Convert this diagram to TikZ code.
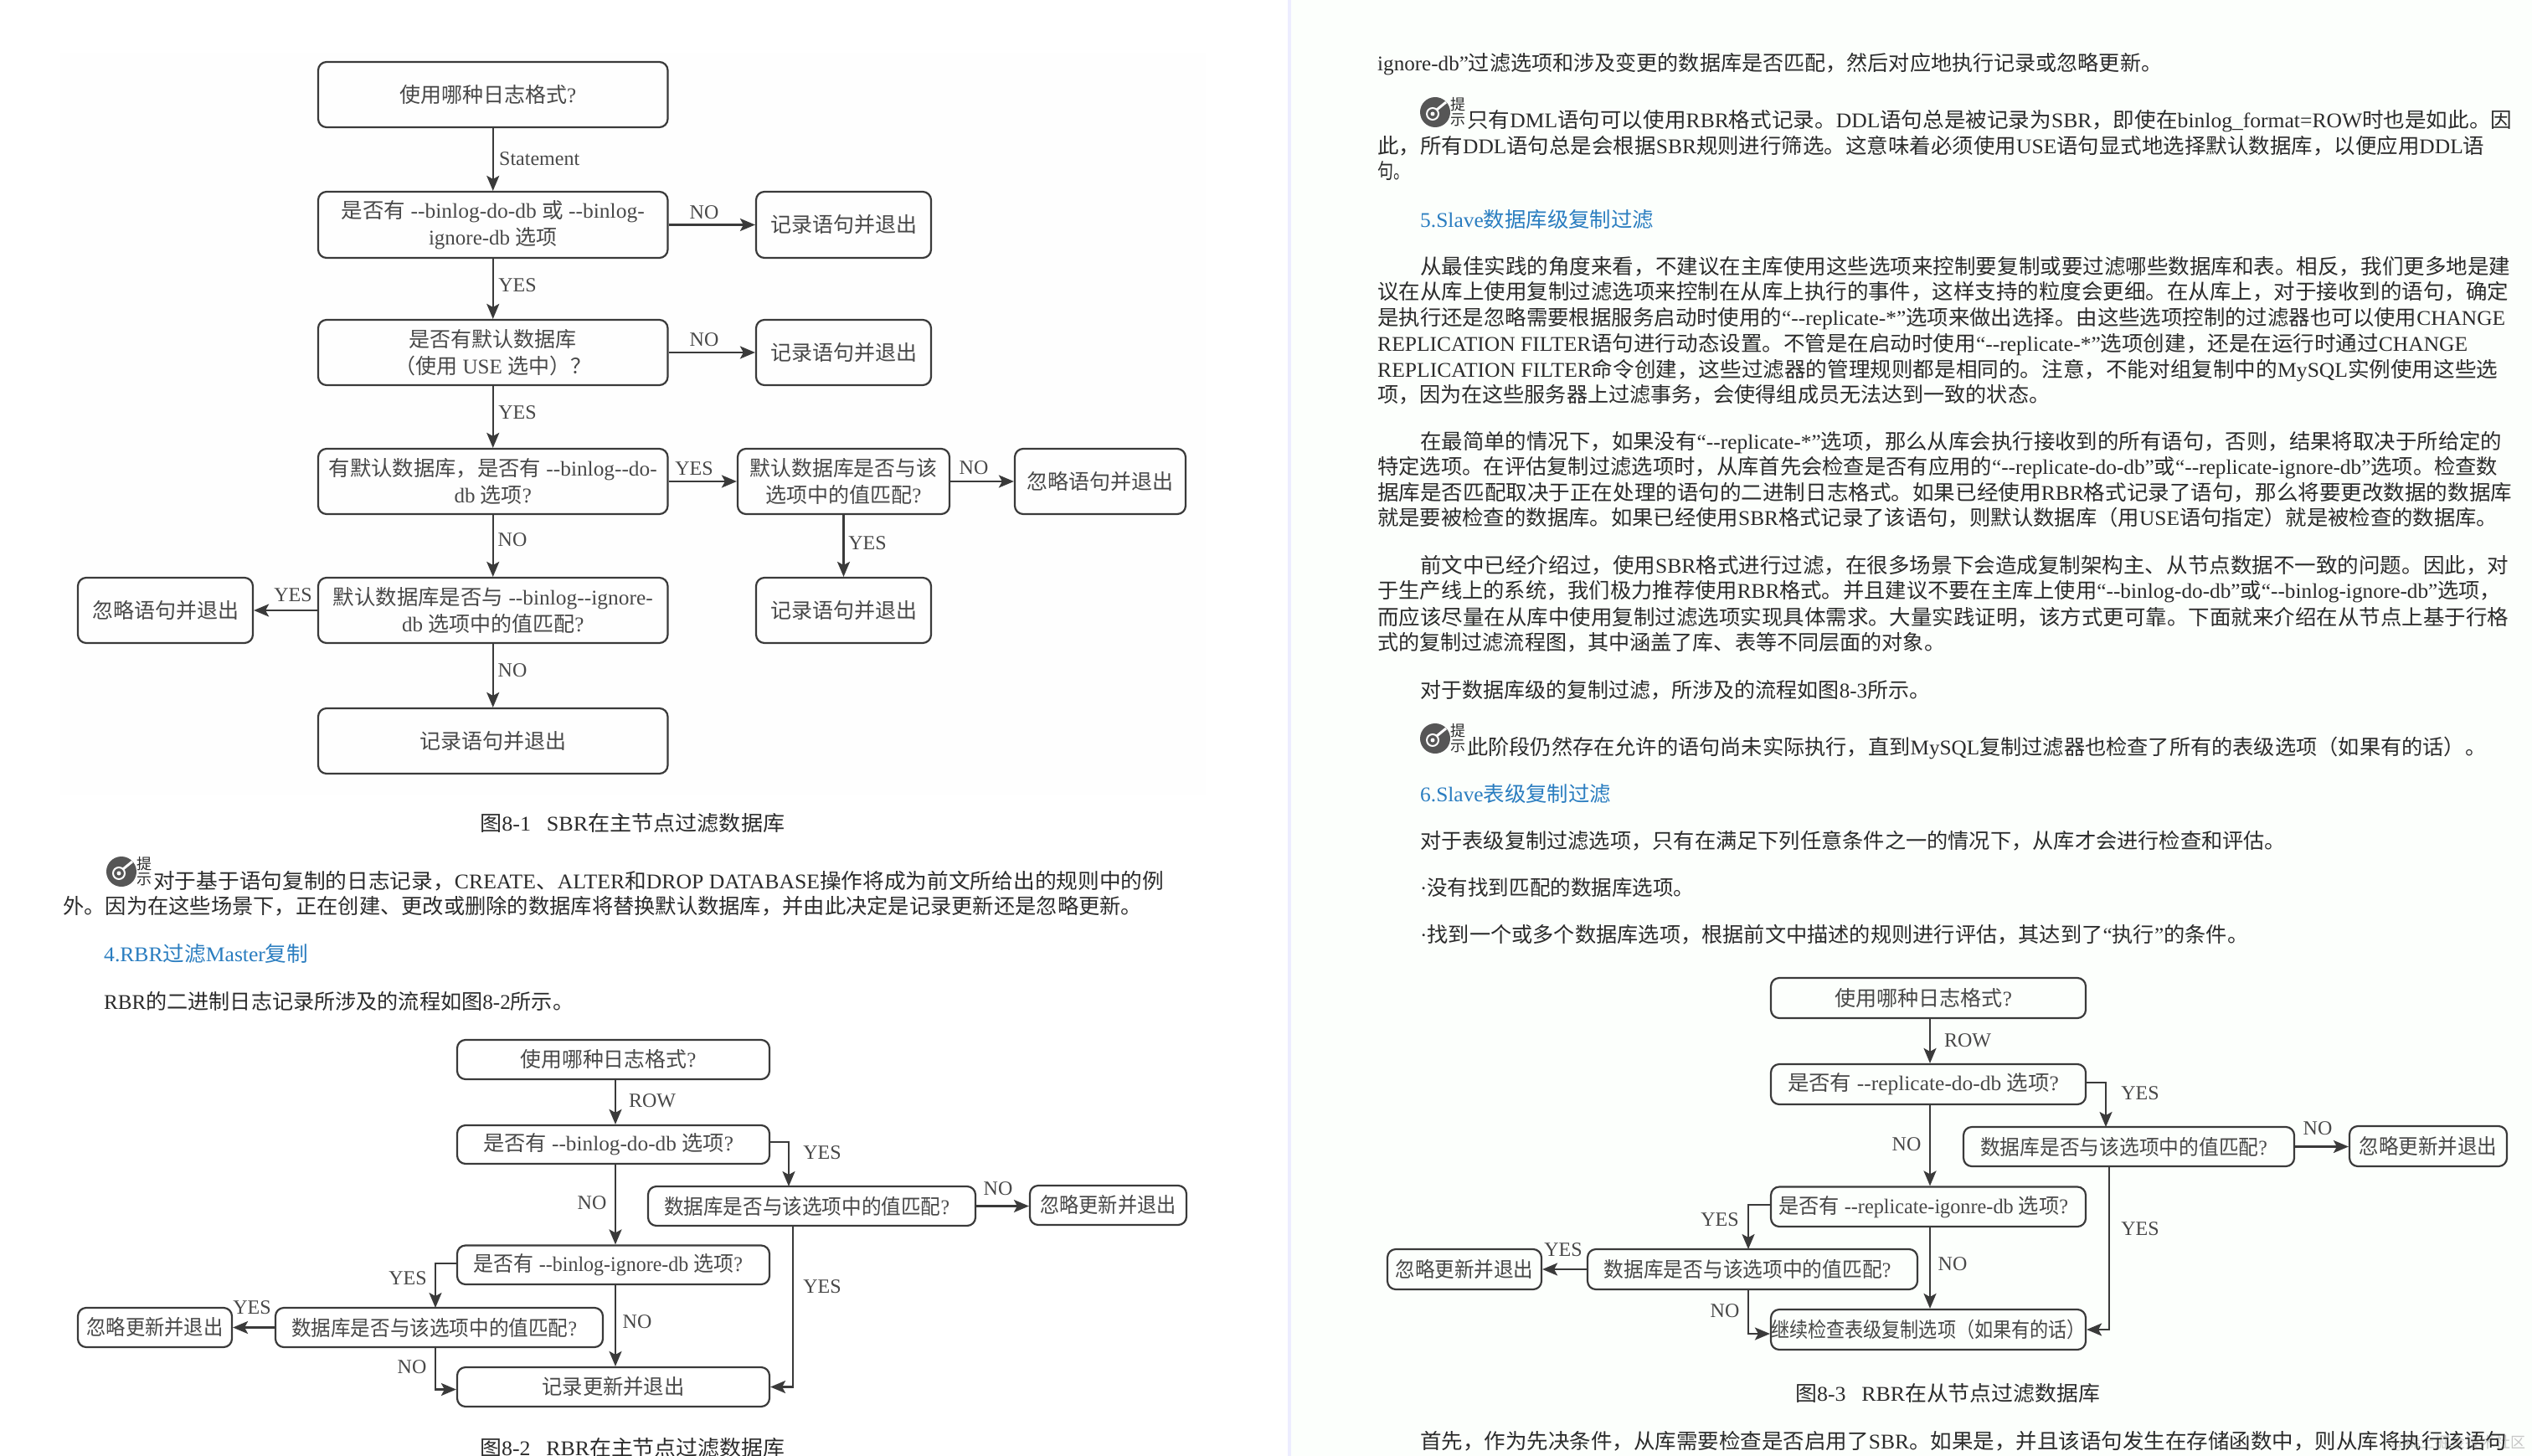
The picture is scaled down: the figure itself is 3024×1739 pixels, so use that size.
\documentclass[tikz,border=0pt]{standalone}
\usepackage{fontspec}
\usepackage{graphicx}
\usetikzlibrary{arrows.meta}
\setmainfont{Liberation Serif}
\newfontfamily\latf{Liberation Serif}
\newfontfamily\cjk{Noto Sans CJK SC}
\XeTeXinterchartokenstate=1
\newXeTeXintercharclass\cjkclass
\makeatletter
\@tempcnta="2E80 \loop\ifnum\@tempcnta<"A000 \XeTeXcharclass\@tempcnta=\cjkclass \advance\@tempcnta 1 \repeat
\@tempcnta="FF00 \loop\ifnum\@tempcnta<"FFF0 \XeTeXcharclass\@tempcnta=\cjkclass \advance\@tempcnta 1 \repeat
\@tempcnta="21 \loop\ifnum\@tempcnta<"180 \XeTeXcharclass\@tempcnta=0 \advance\@tempcnta 1 \repeat
\@tempcnta="2010 \loop\ifnum\@tempcnta<"2060 \XeTeXcharclass\@tempcnta=0 \advance\@tempcnta 1 \repeat
\makeatother
\XeTeXinterchartoks 0 \cjkclass = {\cjk}
\XeTeXinterchartoks 4095 \cjkclass = {\cjk}
\XeTeXinterchartoks \cjkclass 0 = {\latf}
\XeTeXinterchartoks \cjkclass 4095 = {\latf}
\XeTeXinterchartoks 4095 0 = {\latf}
\definecolor{ink}{HTML}{2B2B2B}
\definecolor{figink}{HTML}{3A3A3A}
\definecolor{figtext}{HTML}{484848}
\definecolor{headblue}{HTML}{2A7DC0}
\definecolor{iconc}{HTML}{565656}
\definecolor{figbg}{HTML}{FEFEFE}
\newcounter{lc}
\newcommand{\tl}[4]{\stepcounter{lc}\node[textline] (ln\arabic{lc}) at (#1,#2+9) {\resizebox{#3pt}{\height}{#4}};}
\newcommand{\hl}[4]{\stepcounter{lc}\node[textline,text=headblue] (ln\arabic{lc}) at (#1,#2+9) {\resizebox{#3pt}{\height}{#4}};}
\newcommand{\fw}[2]{\resizebox{#1pt}{\height}{#2}}
\newcommand{\ofw}[2]{\makebox[0pt][c]{\kern-12pt\resizebox{#1pt}{\height}{#2}}}
\newcommand{\icon}[3]{%
  \fill[iconc] (#1,#2) circle (18);
  \draw[white,line width=2] (#1-3,#2+2) circle (7);
  \fill[white] (#1-3,#2+2) circle (2.5);
  \draw[white,line width=3] (#1+2,#2-3) -- (#1+13,#2-12);
  \stepcounter{lc}\node[icontext] (ln\arabic{lc}) at (#1+27,#2-9) {提};
  \stepcounter{lc}\node[icontext] (ln\arabic{lc}) at (#1+27,#2+9) {示};
}
\newcommand{\bx}[6]{\node[fbox,minimum width=#4pt-#2pt,minimum height=#5pt-#3pt] (#1) at ({(#2+#4)/2},{(#3+#5)/2}) {#6};}
\tikzset{
  textline/.style={anchor=base west,inner sep=0,text=ink,font=\fontsize{25}{30}\selectfont\latf},
  icontext/.style={inner sep=0,text=ink,font=\fontsize{18}{20}\selectfont\cjk},
  fbox/.style={draw=figink,line width=2.2pt,rounded corners=10pt,inner sep=0,align=center,text=figtext,font=\fontsize{25}{32.5}\selectfont\latf},
  arr/.style={draw=figink,line width=2.2pt,-{Stealth[length=18pt,width=15pt,inset=4pt]}},
  lab/.style={inner sep=0,text=figtext,font=\fontsize{24}{28}\selectfont\latf},
  wm/.style={inner sep=0,text=black!22,font=\fontsize{18}{20}\selectfont\cjk}
}
\begin{document}
\begin{tikzpicture}[x=1pt,y=-1pt]
\useasboundingbox (0,0) rectangle (3024,1739);
\fill[white] (0,0) rectangle (3024,1739);
\fill[figbg] (72,63) rectangle (1440,950);
\fill[green!1!white] (1542,0) rectangle (3024,1739);
\fill[blue!7!white] (1538,0) rectangle (1542,1739);
\node[wm,anchor=east] (wmark) at (3017,1724) {@稀土掘金技术社区};

% Figure 8-1
\bx{a1}{380}{74}{797.5}{152}{\ofw{211}{使用哪种日志格式?}}
\bx{b1}{380}{229}{797.5}{308}{\fw{362}{是否有 --binlog-do-db 或 --binlog-}\\ignore-db 选项}
\bx{br1}{903}{229}{1112}{308}{记录语句并退出}
\bx{c1}{380}{382}{797.5}{460}{是否有默认数据库\\（使用 USE 选中）？}
\bx{cr1}{903}{382}{1112}{460}{记录语句并退出}
\bx{d1}{380}{536}{797.5}{614}{\fw{392}{有默认数据库，是否有 --binlog--do-}\\db 选项?}
\bx{dm1}{881}{536}{1134}{614}{\fw{224}{默认数据库是否与该}\\选项中的值匹配?}
\bx{dr1}{1212}{536}{1416}{614}{忽略语句并退出}
\bx{e1}{380}{690}{797.5}{768}{\fw{382}{默认数据库是否与 --binlog--ignore-}\\db 选项中的值匹配?}
\bx{el1}{93}{690}{302}{768}{忽略语句并退出}
\bx{er1}{903}{690}{1112}{768}{记录语句并退出}
\bx{f1}{380}{846}{797.5}{924}{记录语句并退出}
\draw[arr] (a1) -- (b1);
\draw[arr] (b1) -- (c1);
\draw[arr] (c1) -- (d1);
\draw[arr] (d1) -- (e1);
\draw[arr] (e1) -- (f1);
\draw[arr] (b1) -- (br1);
\draw[arr] (c1) -- (cr1);
\draw[arr] (d1) -- (dm1);
\draw[arr] (dm1) -- (dr1);
\draw[arr] (dm1) -- (er1);
\draw[arr] (e1) -- (el1);
\node[lab,anchor=west] (l11) at (596,189.5) {Statement};
\node[lab] (l12) at (841,254) {NO};
\node[lab] (l13) at (618,341) {YES};
\node[lab] (l14) at (841,406) {NO};
\node[lab] (l15) at (618,493) {YES};
\node[lab] (l16) at (829,560) {YES};
\node[lab] (l17) at (1163,559) {NO};
\node[lab] (l18) at (1036,649) {YES};
\node[lab] (l19) at (612,645) {NO};
\node[lab] (l110) at (350,711) {YES};
\node[lab] (l111) at (612,801) {NO};

% Left page text
\tl{573}{983}{364}{图8-1\hspace{18pt}SBR在主节点过滤数据库}
\icon{145}{1041}{i1}
\tl{183}{1052}{1207}{对于基于语句复制的日志记录，CREATE、ALTER和DROP DATABASE操作将成为前文所给出的规则中的例}
\tl{75}{1082}{1289}{外。因为在这些场景下，正在创建、更改或删除的数据库将替换默认数据库，并由此决定是记录更新还是忽略更新。}
\hl{124}{1139}{244}{4.RBR过滤Master复制}
\tl{124}{1196}{561}{RBR的二进制日志记录所涉及的流程如图8-2所示。}

% Figure 8-2
\bx{a2}{546}{1242}{919}{1289}{\ofw{210}{使用哪种日志格式?}}
\bx{b2}{546}{1344}{919}{1390}{\ofw{299}{是否有 --binlog-do-db 选项?}}
\bx{m2}{774}{1417}{1165}{1464}{\ofw{341}{数据库是否与该选项中的值匹配?}}
\bx{r2}{1230}{1416}{1417}{1463}{\fw{162}{忽略更新并退出}}
\bx{c2}{546}{1487.5}{919}{1534}{\ofw{321}{是否有 --binlog-ignore-db 选项?}}
\bx{d2}{329}{1562}{720}{1609}{\ofw{341}{数据库是否与该选项中的值匹配?}}
\bx{l2}{93}{1562}{277}{1609}{\fw{163}{忽略更新并退出}}
\bx{e2}{546}{1633}{919}{1680}{\fw{170}{记录更新并退出}}
\coordinate (x2) at (735,0);
\coordinate (mi2) at (942,1417);
\coordinate (mo2) at (947,1464);
\coordinate (di2) at (520,1562);
\coordinate (do2) at (520,1609);
\draw[arr] (x2 |- a2.south) -- (x2 |- b2.north);
\draw[arr] (x2 |- b2.south) -- (x2 |- c2.north);
\draw[arr] (x2 |- c2.south) -- (x2 |- e2.north);
\draw[arr] ([yshift=3pt]b2.east) -| (mi2);
\draw[arr] (mo2) |- (e2.east);
\draw[arr] (m2) -- (m2 -| r2.west);
\draw[arr] ([yshift=2pt]c2.west) -| (di2);
\draw[arr] (do2) |- ([yshift=-3pt]e2.west);
\draw[arr] (d2) -- (l2);
\node[lab] (l21) at (779,1315) {ROW};
\node[lab] (l22) at (982,1377) {YES};
\node[lab] (l23) at (707,1437) {NO};
\node[lab] (l24) at (1192,1420) {NO};
\node[lab] (l25) at (982,1537) {YES};
\node[lab] (l26) at (487,1527) {YES};
\node[lab] (l27) at (301,1562) {YES};
\node[lab] (l28) at (761,1579) {NO};
\node[lab] (l29) at (492,1633) {NO};
\tl{573}{1729}{364}{图8-2\hspace{18pt}RBR在主节点过滤数据库}

% Right page text
\tl{1645}{76}{937}{ignore-db”过滤选项和涉及变更的数据库是否匹配，然后对应地执行记录或忽略更新。}
\icon{1714}{134}{i2}
\tl{1752}{144}{1248}{只有DML语句可以使用RBR格式记录。DDL语句总是被记录为SBR，即使在binlog\_format=ROW时也是如此。因}
\tl{1645}{175}{1322}{此，所有DDL语句总是会根据SBR规则进行筛选。这意味着必须使用USE语句显式地选择默认数据库，以便应用DDL语}
\tl{1645}{205}{38}{句。}
\hl{1696}{262}{279}{5.Slave数据库级复制过滤}
\tl{1696}{318}{1302}{从最佳实践的角度来看，不建议在主库使用这些选项来控制要复制或要过滤哪些数据库和表。相反，我们更多地是建}
\tl{1645}{348}{1351}{议在从库上使用复制过滤选项来控制在从库上执行的事件，这样支持的粒度会更细。在从库上，对于接收到的语句，确定}
\tl{1645}{379}{1347}{是执行还是忽略需要根据服务启动时使用的“--replicate-*”选项来做出选择。由这些选项控制的过滤器也可以使用CHANGE}
\tl{1645}{410}{1302}{REPLICATION FILTER语句进行动态设置。不管是在启动时使用“--replicate-*”选项创建，还是在运行时通过CHANGE}
\tl{1645}{441}{1338}{REPLICATION FILTER命令创建，这些过滤器的管理规则都是相同的。注意，不能对组复制中的MySQL实例使用这些选}
\tl{1645}{471}{803}{项，因为在这些服务器上过滤事务，会使得组成员无法达到一致的状态。}
\tl{1696}{527}{1292}{在最简单的情况下，如果没有“--replicate-*”选项，那么从库会执行接收到的所有语句，否则，结果将取决于所给定的}
\tl{1645}{557}{1338}{特定选项。在评估复制过滤选项时，从库首先会检查是否有应用的“--replicate-do-db”或“--replicate-ignore-db”选项。检查数}
\tl{1645}{588}{1355}{据库是否匹配取决于正在处理的语句的二进制日志格式。如果已经使用RBR格式记录了语句，那么将要更改数据的数据库}
\tl{1645}{618}{1338}{就是要被检查的数据库。如果已经使用SBR格式记录了该语句，则默认数据库（用USE语句指定）就是被检查的数据库。}
\tl{1696}{675}{1300}{前文中已经介绍过，使用SBR格式进行过滤，在很多场景下会造成复制架构主、从节点数据不一致的问题。因此，对}
\tl{1645}{705.5}{1342}{于生产线上的系统，我们极力推荐使用RBR格式。并且建议不要在主库上使用“--binlog-do-db”或“--binlog-ignore-db”选项，}
\tl{1645}{737}{1351}{而应该尽量在从库中使用复制过滤选项实现具体需求。大量实践证明，该方式更可靠。下面就来介绍在从节点上基于行格}
\tl{1645}{767}{678}{式的复制过滤流程图，其中涵盖了库、表等不同层面的对象。}
\tl{1696}{824}{609}{对于数据库级的复制过滤，所涉及的流程如图8-3所示。}
\icon{1714}{882}{i3}
\tl{1752}{892}{1217}{此阶段仍然存在允许的语句尚未实际执行，直到MySQL复制过滤器也检查了所有的表级选项（如果有的话）。}
\hl{1696}{948}{228}{6.Slave表级复制过滤}
\tl{1696}{1004}{1034}{对于表级复制过滤选项，只有在满足下列任意条件之一的情况下，从库才会进行检查和评估。}
\tl{1696}{1060}{327}{·没有找到匹配的数据库选项。}
\tl{1696}{1116}{989}{·找到一个或多个数据库选项，根据前文中描述的规则进行评估，其达到了“执行”的条件。}

% Figure 8-3
\bx{a3}{2115}{1168}{2491}{1216}{\ofw{212}{使用哪种日志格式?}}
\bx{b3}{2115}{1271}{2491}{1319}{\ofw{324}{是否有 --replicate-do-db 选项?}}
\bx{m3}{2345}{1346}{2740}{1393}{\ofw{343}{数据库是否与该选项中的值匹配?}}
\bx{r3}{2806}{1345}{2994}{1393}{\fw{165}{忽略更新并退出}}
\bx{c3}{2115}{1417.5}{2491}{1465}{\ofw{346}{是否有 --replicate-igonre-db 选项?}}
\bx{d3}{1896}{1492}{2290}{1540}{\ofw{343}{数据库是否与该选项中的值匹配?}}
\bx{l3}{1657}{1492}{1841}{1540}{\fw{165}{忽略更新并退出}}
\bx{e3}{2115}{1564}{2491}{1612}{\fw{376}{继续检查表级复制选项（如果有的话）}}
\coordinate (x3) at (2305,0);
\coordinate (mi3) at (2515,1346);
\coordinate (mo3) at (2519,1393);
\coordinate (di3) at (2088,1492);
\coordinate (do3) at (2088,1540);
\draw[arr] (x3 |- a3.south) -- (x3 |- b3.north);
\draw[arr] (x3 |- b3.south) -- (x3 |- c3.north);
\draw[arr] (x3 |- c3.south) -- (x3 |- e3.north);
\draw[arr] ([yshift=2pt]b3.east) -| (mi3);
\draw[arr] (mo3) |- (e3.east);
\draw[arr] (m3) -- (m3 -| r3.west);
\draw[arr] ([yshift=2pt]c3.west) -| (di3);
\draw[arr] (do3) |- ([yshift=-5pt]e3.west);
\draw[arr] (d3) -- (l3);
\node[lab] (l31) at (2350,1243) {ROW};
\node[lab] (l32) at (2556,1305.5) {YES};
\node[lab] (l33) at (2277,1367) {NO};
\node[lab] (l34) at (2768,1348) {NO};
\node[lab] (l35) at (2556,1468) {YES};
\node[lab] (l36) at (2054,1457) {YES};
\node[lab] (l37) at (1867,1493) {YES};
\node[lab] (l38) at (2332,1510) {NO};
\node[lab] (l39) at (2060,1566) {NO};
\tl{2144}{1664}{364}{图8-3\hspace{18pt}RBR在从节点过滤数据库}
\tl{1696}{1721}{1298}{首先，作为先决条件，从库需要检查是否启用了SBR。如果是，并且该语句发生在存储函数中，则从库将执行该语句}
\end{tikzpicture}
\end{document}
